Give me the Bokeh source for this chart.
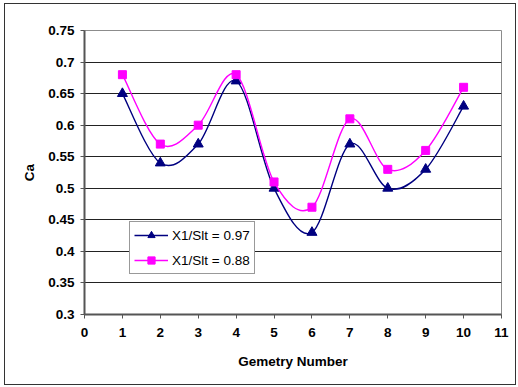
import numpy as np
from bokeh.plotting import figure
from bokeh.models import FixedTicker, Legend, LegendItem, ColumnDataSource
from bokeh.embed import file_html
from bokeh.resources import INLINE

# Data
geometry = [1, 2, 3, 4, 5, 6, 7, 8, 9, 10]
ca_097 = [0.65, 0.54, 0.57, 0.67, 0.50, 0.43, 0.57, 0.50, 0.53, 0.63]
ca_088 = [0.68, 0.57, 0.60, 0.68, 0.51, 0.47, 0.61, 0.53, 0.56, 0.66]
series_labels = ["X1/Slt = 0.97", "X1/Slt = 0.88"]
x_ticks = [0, 1, 2, 3, 4, 5, 6, 7, 8, 9, 10, 11]
y_ticks = [0.3, 0.35, 0.4, 0.45, 0.5, 0.55, 0.6, 0.65, 0.7, 0.75]
y_tick_labels = ["0.3", "0.35", "0.4", "0.45", "0.5", "0.55", "0.6", "0.65", "0.7", "0.75"]

FONT = "Liberation Sans"


def smooth_segments(xs, ys):
    """Cubic Bezier segments (Catmull-Rom style) through the points."""
    x = np.asarray(xs, float)
    y = np.asarray(ys, float)
    xp = np.concatenate([[x[0]], x, [x[-1]]])
    yp = np.concatenate([[y[0]], y, [y[-1]]])
    n = len(x)
    return dict(
        x0=x[:-1], y0=y[:-1], x1=x[1:], y1=y[1:],
        cx0=xp[1:n] + (xp[2:n + 1] - xp[0:n - 1]) / 6.0,
        cy0=yp[1:n] + (yp[2:n + 1] - yp[0:n - 1]) / 6.0,
        cx1=xp[2:n + 1] - (xp[3:n + 2] - xp[1:n]) / 6.0,
        cy1=yp[2:n + 1] - (yp[3:n + 2] - yp[1:n]) / 6.0,
    )


p = figure(width=510, height=380, x_range=(0, 11), y_range=(0.3, 0.75),
           output_backend="svg", toolbar_location=None,
           min_border_left=79, min_border_top=26, min_border_right=14,
           min_border_bottom=70, margin=(4, 0, 0, 5),
           styles={"outline": "1.5px solid #333333"})

p.background_fill_color = "white"
p.border_fill_color = "white"
p.outline_line_color = "#8c8c8c"
p.outline_line_width = 1

# Axes
for ax in (p.xaxis[0], p.yaxis[0]):
    ax.axis_line_color = "#555555"
    ax.axis_line_width = 2
    ax.major_tick_line_color = "#555555"
    ax.major_tick_line_width = 1
    ax.major_tick_in = 0
    ax.major_tick_out = 4
    ax.minor_tick_line_color = None
    ax.major_label_text_font = FONT
    ax.major_label_text_font_style = "bold"
    ax.major_label_text_font_size = "13.5px"
    ax.major_label_text_color = "black"
    ax.axis_label_text_font = FONT
    ax.axis_label_text_font_style = "bold"
    ax.axis_label_text_font_size = "13.5px"
    ax.axis_label_text_color = "black"

p.xaxis.ticker = FixedTicker(ticks=x_ticks)
p.yaxis.ticker = FixedTicker(ticks=y_ticks)
p.yaxis.major_label_overrides = {t: s for t, s in zip(y_ticks, y_tick_labels)}
p.xaxis.major_label_standoff = 9
p.yaxis.major_label_standoff = 6
p.xaxis.axis_label = "Gemetry Number"
p.yaxis.axis_label = "Ca"
p.xaxis.axis_label_standoff = 14
p.yaxis.axis_label_standoff = 8

p.xgrid.grid_line_color = None
p.ygrid.grid_line_color = "#222222"
p.ygrid.grid_line_width = 1

# Series
items = []
for ys, color, marker, msize, label in [
    (ca_097, "#000080", "triangle", 10, series_labels[0]),
    (ca_088, "#ff00ff", "square", 8, series_labels[1]),
]:
    seg = ColumnDataSource(smooth_segments(geometry, ys))
    bez = p.bezier(x0="x0", y0="y0", x1="x1", y1="y1", cx0="cx0", cy0="cy0",
                   cx1="cx1", cy1="cy1", source=seg, line_color=color, line_width=1.4)
    pts = p.scatter(geometry, ys, marker=marker, size=msize,
                    fill_color=color, line_color=color)
    items.append(LegendItem(label=label, renderers=[bez, pts]))

legend = Legend(items=items, location=(45, 40))
legend.label_text_font = FONT
legend.label_text_font_size = "13.5px"
legend.label_text_color = "black"
legend.border_line_color = "#333333"
legend.border_line_width = 1
legend.background_fill_color = "white"
legend.background_fill_alpha = 1
legend.padding = 4
legend.spacing = 7
legend.margin = 0
legend.glyph_width = 34
legend.glyph_height = 18
legend.label_height = 18
legend.label_standoff = 4
p.add_layout(legend)

open("out.html", "w").write(file_html(p, INLINE))
